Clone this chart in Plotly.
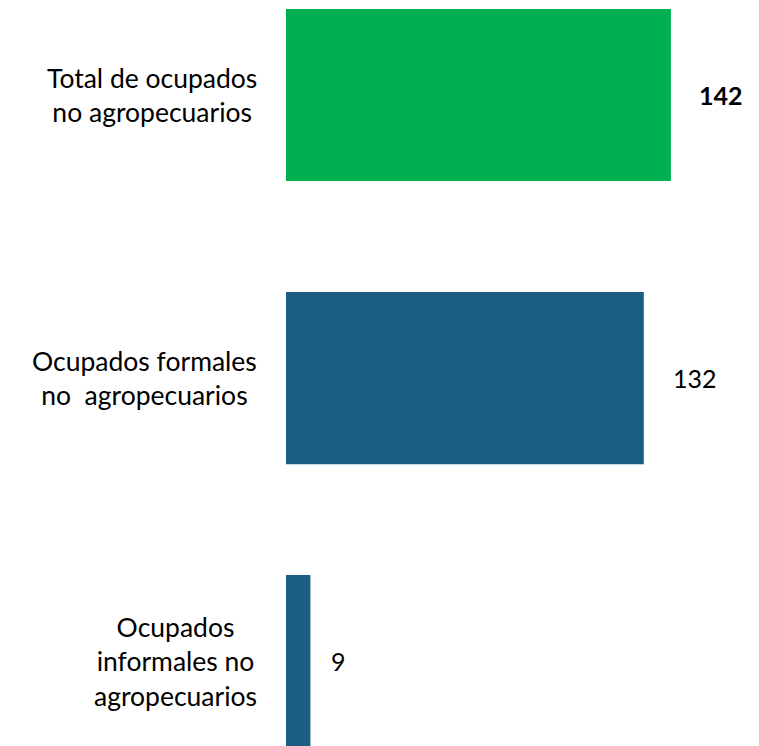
import plotly.graph_objects as go

# Ocupados no agropecuarios (miles)
categorias = [
    "Total de ocupados<br>no agropecuarios",
    "Ocupados formales<br>no  agropecuarios",
    "Ocupados<br>informales no<br>agropecuarios",
]
valores = [142, 132, 9]

colores = ["#00B050", "#1A5F83", "#1A5F83"]
pesos = ["bold", "normal", "normal"]
desplaz_etiqueta = [26, 27, 19]

FUENTE = "Lato, 'Open Sans', sans-serif"

fig = go.Figure(
    go.Bar(
        x=valores,
        y=list(range(len(valores))),
        orientation="h",
        marker=dict(color=colores, line=dict(width=0)),
        width=0.608,
        hoverinfo="skip",
    )
)

annotations = []
for i, (cat, val) in enumerate(zip(categorias, valores)):
    # category label to the left of the axis
    annotations.append(dict(
        x=0, xref="paper", y=i, yref="y",
        text=cat, showarrow=False,
        xanchor="right", yanchor="middle", align="center",
        xshift=-27,
        font=dict(family=FUENTE, size=26.5, color="#000000"),
    ))
    # value label past the end of each bar
    annotations.append(dict(
        x=val, xref="x", y=i, yref="y",
        text=str(val), showarrow=False,
        xanchor="left", yanchor="middle",
        xshift=desplaz_etiqueta[i],
        font=dict(family=FUENTE, size=25, color="#000000", weight=pesos[i]),
    ))

fig.update_layout(
    width=759,
    height=746,
    margin=dict(l=286, r=0, t=0, b=0),
    paper_bgcolor="white",
    plot_bgcolor="white",
    showlegend=False,
    xaxis=dict(range=[0, 174.5], visible=False, fixedrange=True),
    yaxis=dict(range=[2.30, -0.336], visible=False, fixedrange=True),
    annotations=annotations,
)

fig.write_html("out.html")
